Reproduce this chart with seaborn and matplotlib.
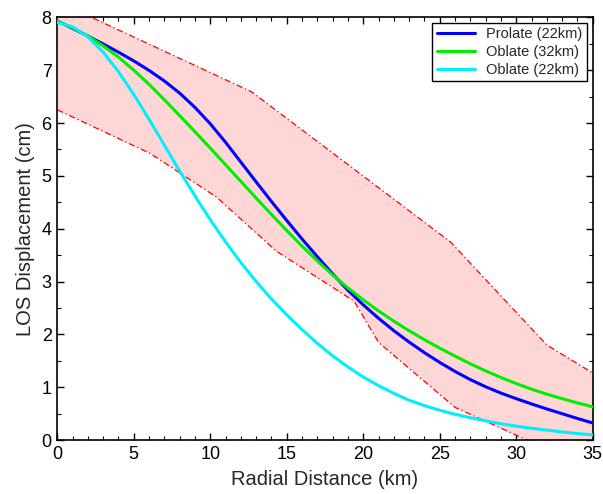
import numpy as np
import pandas as pd
import matplotlib
matplotlib.use("Agg")
import matplotlib.pyplot as plt
import seaborn as sns

# Radial distance samples (km) for the model curves
distance_km = list(range(0, 36))

prolate_22 = [7.93, 7.79, 7.645, 7.495, 7.34, 7.175, 6.995, 6.795, 6.565, 6.295,
              5.985, 5.635, 5.26, 4.885, 4.515, 4.155, 3.805, 3.47, 3.145, 2.835,
              2.56, 2.305, 2.07, 1.855, 1.655, 1.47, 1.30, 1.145, 1.01, 0.89,
              0.785, 0.685, 0.59, 0.50, 0.41, 0.325]

oblate_32 = [7.93, 7.80, 7.645, 7.46, 7.245, 7.00, 6.73, 6.44, 6.14, 5.835,
             5.525, 5.21, 4.895, 4.58, 4.27, 3.965, 3.67, 3.39, 3.125, 2.88,
             2.655, 2.445, 2.25, 2.07, 1.90, 1.74, 1.59, 1.445, 1.31, 1.185,
             1.07, 0.965, 0.87, 0.785, 0.705, 0.63]

oblate_22 = [7.90, 7.82, 7.63, 7.34, 6.97, 6.54, 6.07, 5.58, 5.09, 4.62,
             4.17, 3.75, 3.36, 3.00, 2.67, 2.37, 2.09, 1.83, 1.595, 1.385,
             1.195, 1.03, 0.885, 0.755, 0.655, 0.565, 0.49, 0.425, 0.365, 0.31,
             0.265, 0.225, 0.19, 0.155, 0.125, 0.10]

# Observed displacement envelope (upper and lower bounds)
upper_x = [0.0, 12.7, 25.7, 32.0, 35.0]
upper_y = [8.30, 6.59, 3.75, 1.80, 1.27]
lower_x = [0.0, 6.1, 10.4, 14.3, 19.4, 21.0, 26.0, 30.5, 35.0]
lower_y = [6.25, 5.42, 4.60, 3.58, 2.63, 1.85, 0.62, 0.03, -0.55]

series_names = ["Prolate (22km)", "Oblate (32km)", "Oblate (22km)"]
series_colors = ["#0000ff", "#00ee00", "#00eeff"]

sns.set_theme(style="ticks")
plt.rcParams["font.family"] = ["Liberation Sans", "DejaVu Sans"]
plt.rcParams["lines.scale_dashes"] = False

df = pd.DataFrame({
    "distance": distance_km * 3,
    "los": prolate_22 + oblate_32 + oblate_22,
    "model": [series_names[0]] * 36 + [series_names[1]] * 36 + [series_names[2]] * 36,
})

fig = plt.figure(figsize=(6.03, 4.94), dpi=100)
ax = fig.add_axes([0.095, 0.109, 0.888, 0.856])

# Envelope band
ax.fill(upper_x + lower_x[::-1], upper_y + lower_y[::-1],
        color="#ffd6d6", linewidth=0, zorder=1)
bounds = pd.DataFrame({"x": upper_x, "y": upper_y})
sns.lineplot(data=bounds, x="x", y="y", ax=ax, color="#ff0000", lw=0.9,
             linestyle=(0, (4.5, 2, 1, 2)), sort=False, zorder=2)
bounds_lo = pd.DataFrame({"x": lower_x, "y": lower_y})
sns.lineplot(data=bounds_lo, x="x", y="y", ax=ax, color="#ff0000", lw=0.9,
             linestyle=(0, (4.5, 2, 1, 2)), sort=False, zorder=2)

sns.lineplot(data=df, x="distance", y="los", hue="model",
             hue_order=series_names, palette=series_colors,
             lw=2.2, ax=ax, zorder=3)

ax.set_xlim(0, 35)
ax.set_ylim(0, 8)
ax.set_xticks(range(0, 36, 5))
ax.set_yticks(range(0, 9))
ax.set_xticks(range(0, 36), minor=True)
ax.set_yticks(np.arange(0, 8.01, 0.5), minor=True)
ax.tick_params(which="both", direction="in", top=True, right=True,
               labelsize=13, colors="black")
ax.tick_params(which="major", length=5, width=1, pad=4)
ax.tick_params(which="minor", length=3, width=0.8)
for s in ax.spines.values():
    s.set_linewidth(1.2)
    s.set_color("black")

ax.set_xlabel("Radial Distance (km)", fontsize=14.5, labelpad=5)
ax.set_ylabel("LOS Displacement (cm)", fontsize=14.5, labelpad=5)

leg = ax.legend(loc="upper right", fontsize=10.5, frameon=True, fancybox=False,
                edgecolor="black", framealpha=1, handlelength=2.6,
                borderaxespad=0.4, labelspacing=0.25, borderpad=0.3)
leg.get_frame().set_linewidth(1.0)
for line in leg.get_lines():
    line.set_linewidth(2.2)

fig.savefig("out.png", dpi=100)
